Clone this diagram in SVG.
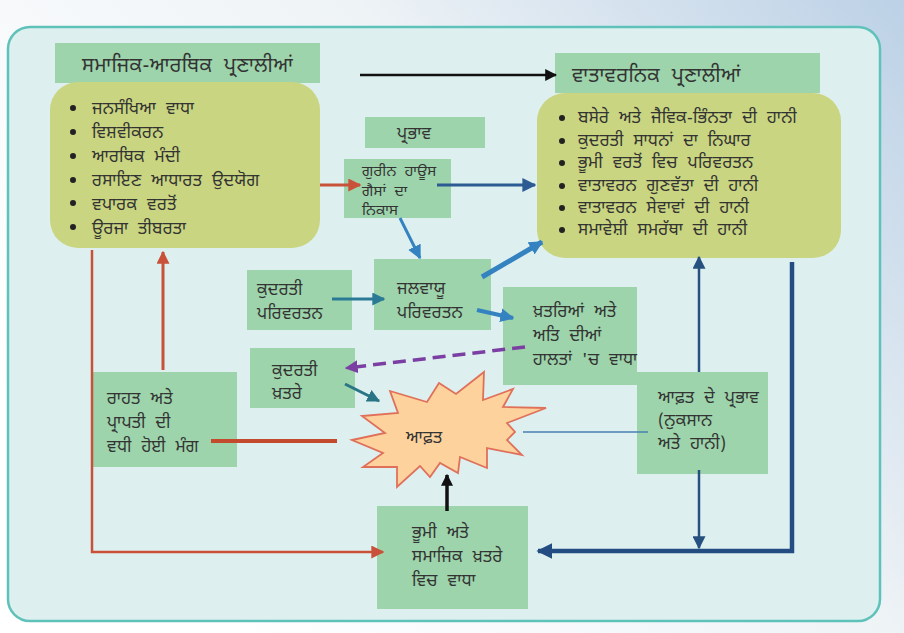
<svg xmlns="http://www.w3.org/2000/svg" width="904" height="633" viewBox="0 0 904 633">
<defs>
<linearGradient id="bg" x1="0" y1="0.6" x2="1" y2="0">
<stop offset="0" stop-color="#ffffff"/>
<stop offset="0.55" stop-color="#eef3f6"/>
<stop offset="1" stop-color="#bcd1e6"/>
</linearGradient>
<marker id="mBlack" viewBox="0 0 10 10" refX="9" refY="5" markerWidth="12" markerHeight="12" markerUnits="userSpaceOnUse" orient="auto"><path d="M0,0 L10,5 L0,10 z" fill="#111"/></marker>
<marker id="mRed" viewBox="0 0 10 10" refX="9" refY="5" markerWidth="13" markerHeight="13" markerUnits="userSpaceOnUse" orient="auto"><path d="M0,0 L10,5 L0,10 z" fill="#c9513a"/></marker>
<marker id="mDBlue" viewBox="0 0 10 10" refX="9" refY="5" markerWidth="14" markerHeight="14" markerUnits="userSpaceOnUse" orient="auto"><path d="M0,0 L10,5 L0,10 z" fill="#2c5a92"/></marker>
<marker id="mBlue" viewBox="0 0 10 10" refX="9" refY="5" markerWidth="14" markerHeight="14" markerUnits="userSpaceOnUse" orient="auto"><path d="M0,0 L10,5 L0,10 z" fill="#3482c0"/></marker>
<marker id="mTeal" viewBox="0 0 10 10" refX="9" refY="5" markerWidth="13" markerHeight="13" markerUnits="userSpaceOnUse" orient="auto"><path d="M0,0 L10,5 L0,10 z" fill="#2a7a96"/></marker>
<marker id="mTeal2" viewBox="0 0 10 10" refX="9" refY="5" markerWidth="13" markerHeight="13" markerUnits="userSpaceOnUse" orient="auto"><path d="M0,0 L10,5 L0,10 z" fill="#2a7585"/></marker>
<marker id="mPurple" viewBox="0 0 10 10" refX="9" refY="5" markerWidth="13" markerHeight="13" markerUnits="userSpaceOnUse" orient="auto"><path d="M0,0 L10,5 L0,10 z" fill="#7b3ea3"/></marker>
<marker id="mNavy" viewBox="0 0 10 10" refX="9" refY="5" markerWidth="13" markerHeight="13" markerUnits="userSpaceOnUse" orient="auto"><path d="M0,0 L10,5 L0,10 z" fill="#25507f"/></marker>
<marker id="mNavyB" viewBox="0 0 10 10" refX="9" refY="5" markerWidth="16" markerHeight="16" markerUnits="userSpaceOnUse" orient="auto"><path d="M0,0 L10,5 L0,10 z" fill="#234c82"/></marker>
</defs>
<style>
text { font-family: "Noto Sans Gurmukhi", "Lohit Gurmukhi", "Raavi", "Noto Sans", "DejaVu Sans", sans-serif; fill: #333; font-size: 17px; letter-spacing: 0.3px; word-spacing: 5px; }
.hdr { font-size: 20px; letter-spacing: 0.5px; word-spacing: 6px; }
.sm { font-size: 15px; word-spacing: 4px; }
.gbox { fill: #9dd4ab; }
.obox { fill: #c9d580; }
.bul { fill: #222; }
.ln { fill: none; }
</style>
<rect x="0" y="0" width="904" height="633" fill="url(#bg)"/>
<rect x="8" y="27" width="872" height="594" rx="22" fill="#ddf0ef" stroke="#5fc2ba" stroke-width="2.5"/>

<g id="socio-header">
<rect class="gbox" x="55" y="43" width="265" height="40"/>
<text class="hdr" x="82" y="72">ਸਮਾਜਿਕ-ਆਰਥਿਕ ਪ੍ਰਣਾਲੀਆਂ</text>
</g>
<g id="socio-list">
<rect class="obox" x="50" y="82" width="270" height="166" rx="28"/>
<circle class="bul" cx="73" cy="108" r="3"/><text x="92" y="114">ਜਨਸੰਖਿਆ ਵਾਧਾ</text>
<circle class="bul" cx="73" cy="132" r="3"/><text x="92" y="138">ਵਿਸ਼ਵੀਕਰਨ</text>
<circle class="bul" cx="73" cy="156" r="3"/><text x="92" y="162">ਆਰਥਿਕ ਮੰਦੀ</text>
<circle class="bul" cx="73" cy="180" r="3"/><text x="92" y="186">ਰਸਾਇਣ ਆਧਾਰਤ ਉਦਯੋਗ</text>
<circle class="bul" cx="73" cy="203" r="3"/><text x="92" y="210">ਵਪਾਰਕ ਵਰਤੋਂ</text>
<circle class="bul" cx="73" cy="227" r="3"/><text x="92" y="234">ਊਰਜਾ ਤੀਬਰਤਾ</text>
</g>

<g id="env-header">
<rect class="gbox" x="555" y="53" width="265" height="40"/>
<text class="hdr" x="572" y="82">ਵਾਤਾਵਰਨਿਕ ਪ੍ਰਣਾਲੀਆਂ</text>
</g>
<g id="env-list">
<rect class="obox" x="537" y="93" width="304" height="165" rx="28"/>
<circle class="bul" cx="562" cy="118" r="3"/><text x="578" y="123">ਬਸੇਰੇ ਅਤੇ ਜੈਵਿਕ-ਭਿੰਨਤਾ ਦੀ ਹਾਨੀ</text>
<circle class="bul" cx="562" cy="141" r="3"/><text x="578" y="146">ਕੁਦਰਤੀ ਸਾਧਨਾਂ ਦਾ ਨਿਘਾਰ</text>
<circle class="bul" cx="562" cy="163" r="3"/><text x="578" y="168">ਭੂਮੀ ਵਰਤੋਂ ਵਿਚ ਪਰਿਵਰਤਨ</text>
<circle class="bul" cx="562" cy="186" r="3"/><text x="578" y="191">ਵਾਤਾਵਰਨ ਗੁਣਵੱਤਾ ਦੀ ਹਾਨੀ</text>
<circle class="bul" cx="562" cy="208" r="3"/><text x="578" y="213">ਵਾਤਾਵਰਨ ਸੇਵਾਵਾਂ ਦੀ ਹਾਨੀ</text>
<circle class="bul" cx="562" cy="230" r="3"/><text x="578" y="235">ਸਮਾਵੇਸ਼ੀ ਸਮਰੱਥਾ ਦੀ ਹਾਨੀ</text>
</g>

<g id="prabhav">
<rect class="gbox" x="365" y="117" width="120" height="31"/>
<text x="397" y="139">ਪ੍ਰਭਾਵ</text>
</g>
<g id="ghg">
<rect class="gbox" x="344" y="159" width="107" height="59"/>
<text class="sm" x="362" y="176">ਗੁਰੀਨ ਹਾਊਸ</text>
<text class="sm" x="362" y="196">ਗੈਸਾਂ ਦਾ</text>
<text class="sm" x="362" y="215">ਨਿਕਾਸ</text>
</g>
<g id="natural-change">
<rect class="gbox" x="247" y="270" width="105" height="60"/>
<text x="257" y="295">ਕੁਦਰਤੀ</text>
<text x="257" y="319">ਪਰਿਵਰਤਨ</text>
</g>
<g id="climate-change">
<rect class="gbox" x="374" y="259" width="117" height="71"/>
<text x="397" y="294">ਜਲਵਾਯੂ</text>
<text x="397" y="318">ਪਰਿਵਰਤਨ</text>
</g>
<g id="extremes">
<rect class="gbox" x="503" y="287" width="134" height="98"/>
<text x="533" y="317">ਖ਼ਤਰਿਆਂ ਅਤੇ</text>
<text x="533" y="341">ਅਤਿ ਦੀਆਂ</text>
<text x="533" y="365">ਹਾਲਤਾਂ 'ਚ ਵਾਧਾ</text>
</g>
<g id="natural-hazards">
<rect class="gbox" x="250" y="348" width="105" height="60"/>
<text x="272" y="376">ਕੁਦਰਤੀ</text>
<text x="272" y="399">ਖ਼ਤਰੇ</text>
</g>
<g id="relief-demand">
<rect class="gbox" x="91" y="372" width="146" height="95"/>
<text x="107" y="404">ਰਾਹਤ ਅਤੇ</text>
<text x="107" y="428">ਪ੍ਰਾਪਤੀ ਦੀ</text>
<text x="107" y="452">ਵਧੀ ਹੋਈ ਮੰਗ</text>
</g>
<g id="disaster">
<polygon points="352,440 385,433 362,416 398,413 390,391 427,402 439,383 456,394 484,372 483,400 513,389 503,407 546,408 507,423 515,432 507,440 522,455 487,448 487,468 460,457 458,473 440,463 430,477 420,466 397,487 397,467 363,467 383,453" fill="#fdd29c" stroke="#e0705a" stroke-width="1.8"/>
<text x="406" y="443">ਆਫ਼ਤ</text>
</g>
<g id="disaster-impact">
<rect class="gbox" x="637" y="372" width="131" height="102"/>
<text x="658" y="403">ਆਫ਼ਤ ਦੇ ਪ੍ਰਭਾਵ</text>
<text x="658" y="426">(ਨੁਕਸਾਨ</text>
<text x="658" y="449">ਅਤੇ ਹਾਨੀ)</text>
</g>
<g id="land-social-risk">
<rect class="gbox" x="377" y="506" width="151" height="103"/>
<text x="412" y="538">ਭੂਮੀ ਅਤੇ</text>
<text x="412" y="562">ਸਮਾਜਿਕ ਖ਼ਤਰੇ</text>
<text x="412" y="586">ਵਿਚ ਵਾਧਾ</text>
</g>

<g id="connectors" class="ln">
<line x1="360" y1="75" x2="556" y2="75" stroke="#111" stroke-width="2.5" marker-end="url(#mBlack)"/>
<line x1="320" y1="185" x2="360" y2="185" stroke="#c9513a" stroke-width="3" marker-end="url(#mRed)"/>
<line x1="437" y1="185" x2="535" y2="185" stroke="#2c5a92" stroke-width="3" marker-end="url(#mDBlue)"/>
<line x1="400" y1="218" x2="420" y2="258" stroke="#3482c0" stroke-width="3" marker-end="url(#mBlue)"/>
<line x1="332" y1="299" x2="384" y2="299" stroke="#2a7a96" stroke-width="3" marker-end="url(#mTeal)"/>
<line x1="482" y1="277" x2="542" y2="242" stroke="#3482c0" stroke-width="5" marker-end="url(#mBlue)"/>
<line x1="477" y1="310" x2="513" y2="318" stroke="#3482c0" stroke-width="4" marker-end="url(#mBlue)"/>
<line x1="525" y1="347" x2="346" y2="368" stroke="#7b3ea3" stroke-width="3.5" stroke-dasharray="13 7" marker-end="url(#mPurple)"/>
<line x1="345" y1="384" x2="379" y2="401" stroke="#2a7585" stroke-width="3" marker-end="url(#mTeal2)"/>
<line x1="211" y1="441" x2="337" y2="441" stroke="#c44a2e" stroke-width="4"/>
<line x1="523" y1="432" x2="648" y2="432" stroke="#4a7fb2" stroke-width="1.5"/>
<line x1="699" y1="372" x2="699" y2="257" stroke="#25507f" stroke-width="2.5" marker-end="url(#mNavy)"/>
<line x1="699" y1="470" x2="699" y2="548" stroke="#25507f" stroke-width="2.5" marker-end="url(#mNavy)"/>
<polyline points="792,262 792,551 538,551" stroke="#234c82" stroke-width="4.5" marker-end="url(#mNavyB)"/>
<polyline points="92,250 92,552 383,552" stroke="#c9513a" stroke-width="2.5" marker-end="url(#mRed)"/>
<line x1="163" y1="370" x2="163" y2="252" stroke="#c9513a" stroke-width="3" marker-end="url(#mRed)"/>
<line x1="447" y1="511" x2="447" y2="475" stroke="#111" stroke-width="3.5" marker-end="url(#mBlack)"/>
</g>
</svg>
